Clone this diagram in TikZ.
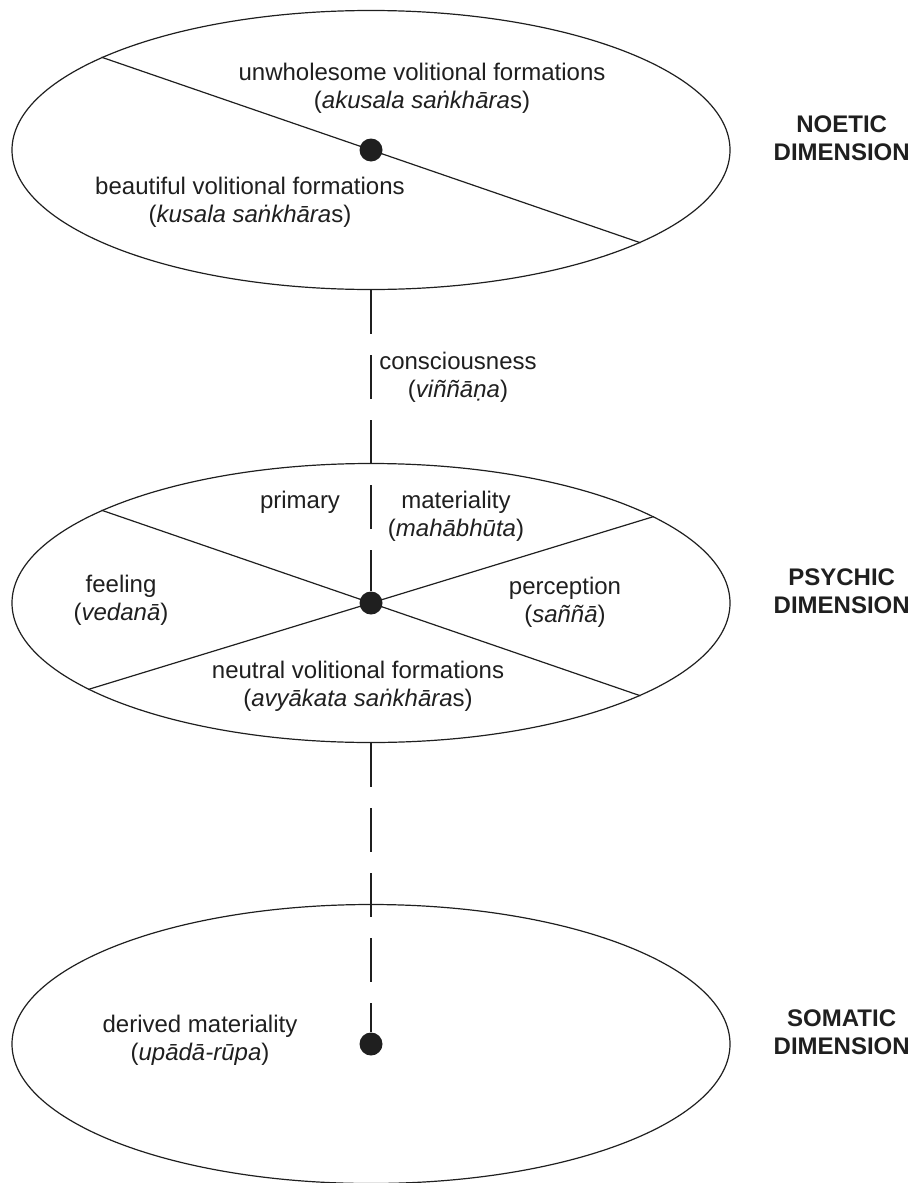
\documentclass[tikz,border=0pt]{standalone}
\usepackage{fontspec}
\setmainfont{Liberation Sans}
\usepackage{xcolor}
\usepackage{tikz}
\usetikzlibrary{shapes.geometric, positioning}

\definecolor{ink}{gray}{0.12}

\begin{document}
\begin{tikzpicture}[x=0.5pt, y=-0.5pt,
    sphere/.style={draw=ink, ellipse, line width=0.6pt, minimum width=359pt, minimum height=139.5pt, inner sep=0pt},
    hub/.style={circle, fill=ink, minimum size=11.5pt, inner sep=0pt},
    cut/.style={draw=ink, line width=0.6pt},
    lbl/.style={text=ink, align=center, font=\fontsize{12}{14}\selectfont},
    dimlbl/.style={text=ink, align=center, font=\fontsize{12}{14}\selectfont\bfseries},
    dashlink/.style={draw=ink, line width=0.6pt, dash pattern=on 22pt off 10.5pt}]
    \useasboundingbox (0,0) rectangle (910,1183);

    % the three dimensions
    \node (noetic) [sphere] at (371,150) {};
    \node (psychic) [sphere] at (371,603) {};
    \node (somatic) [sphere] at (371,1044) {};

    \draw [cut] (noetic.161) -- (noetic.-19);
    \draw [cut] (psychic.161) -- (psychic.-19);
    \draw [cut] (psychic.17) -- (psychic.197);

    \node (ndot) [hub] at (noetic.center) {};
    \node (pdot) [hub] at (psychic.center) {};
    \node (sdot) [hub] at (somatic.center) {};

    \draw [dashlink] (noetic.south) -- (pdot);
    \draw [dashlink] (psychic.south) -- (sdot);

    % texts
    \node (akusala) [lbl] at (422,88) {unwholesome volitional formations\\(\textit{akusala saṅkhāra}s)};
    \node (kusala) [lbl] at (250,202) {beautiful volitional formations\\(\textit{kusala saṅkhāra}s)};
    \node (vinnana) [lbl] at (458,377) {consciousness\\(\textit{viññāṇa})};
    \node (primary) [lbl] at (300,502) {primary};
    \node (mahabhuta) [lbl] at (456,516) {materiality\\(\textit{mahābhūta})};
    \node (vedana) [lbl] at (121,600) {feeling\\(\textit{vedanā})};
    \node (sanna) [lbl] at (565,602) {perception\\(\textit{saññā})};
    \node (avyakata) [lbl] at (358,686) {neutral volitional formations\\(\textit{avyākata saṅkhāra}s)};
    \node (upada) [lbl] at (200,1040) {derived materiality\\(\textit{upādā-rūpa})};

    \node (noeticlbl) [dimlbl, right=18pt of noetic, yshift=6pt] {NOETIC\\DIMENSION};
    \node (psychiclbl) [dimlbl, right=18pt of psychic, yshift=6pt] {PSYCHIC\\DIMENSION};
    \node (somaticlbl) [dimlbl, right=18pt of somatic, yshift=6pt] {SOMATIC\\DIMENSION};
\end{tikzpicture}
\end{document}
